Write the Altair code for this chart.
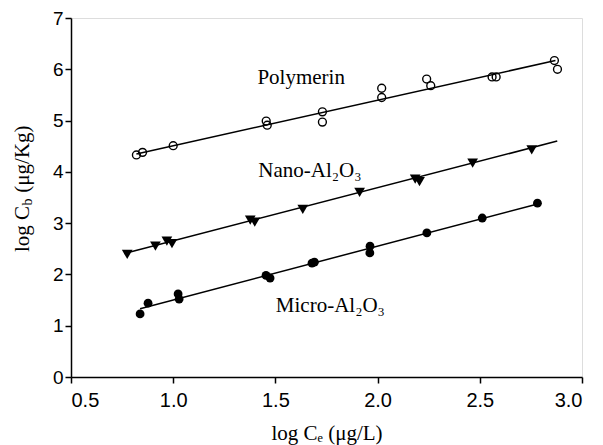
import altair as alt
import pandas as pd

# ---- data ----
poly_x = [0.82, 0.85, 1.00, 1.455, 1.46, 1.73, 1.73, 2.02, 2.02, 2.24, 2.26, 2.56, 2.58, 2.865, 2.88]
poly_y = [4.33, 4.38, 4.51, 4.99, 4.91, 5.17, 4.97, 5.63, 5.45, 5.81, 5.68, 5.85, 5.85, 6.17, 6.00]

nano_x = [0.775, 0.913, 0.969, 0.994, 1.377, 1.399, 1.634, 1.912, 2.184, 2.205, 2.465, 2.754]
nano_y = [2.39, 2.55, 2.65, 2.60, 3.06, 3.02, 3.27, 3.60, 3.86, 3.81, 4.17, 4.43]

micro_x = [0.838, 0.877, 1.024, 1.029, 1.454, 1.474, 1.679, 1.691, 1.963, 1.962, 2.241, 2.512, 2.782]
micro_y = [1.23, 1.44, 1.62, 1.52, 1.98, 1.93, 2.22, 2.24, 2.55, 2.42, 2.81, 3.10, 3.39]

# fitted lines: start and end points
fit_series = ["Polymerin", "Polymerin", "Nano", "Nano", "Micro", "Micro"]
fit_x = [0.82, 2.87, 0.761, 2.879, 0.838, 2.769]
fit_y = [4.35, 6.17, 2.41, 4.60, 1.33, 3.36]

label_text = ["Polymerin", "Nano-Al\u2082O\u2083", "Micro-Al\u2082O\u2083"]
label_x = [1.626, 1.669, 1.769]
label_y = [5.83, 4.02, 1.39]

x_ticks = [0.5, 1.0, 1.5, 2.0, 2.5, 3.0]
y_ticks = [0, 1, 2, 3, 4, 5, 6, 7]

x_title = "log C\u2091 (\u03bcg/L)"
y_title_parts = ["log C", "b", "(\u03bcg/Kg)"]

SERIF = "Liberation Serif"
SANS = "Liberation Sans"

W, H = 511, 359

xs = alt.Scale(domain=[0.5, 3.0], nice=False, zero=False)
ys = alt.Scale(domain=[0, 7], nice=False)

xax = alt.Axis(values=x_ticks, format=".1f", title=x_title, grid=False,
               labelFont=SANS, labelFontSize=20, labelColor="black",
               labelPadding=7, tickSize=6, tickColor="black", tickWidth=1.5,
               domainColor="black", domainWidth=1.5,
               titleFont=SERIF, titleFontSize=21, titleFontWeight="normal",
               titleColor="black", titlePadding=12)
yax = alt.Axis(values=y_ticks, format="d", title=None, grid=False,
               labelFont=SANS, labelFontSize=19, labelColor="black",
               labelPadding=2, tickSize=6, tickColor="black", tickWidth=1.5,
               domainColor="black", domainWidth=1.5)

poly_df = pd.DataFrame({"x": poly_x, "y": poly_y})
nano_df = pd.DataFrame({"x": nano_x, "y": nano_y})
micro_df = pd.DataFrame({"x": micro_x, "y": micro_y})
fit_df = pd.DataFrame({"s": fit_series, "x": fit_x, "y": fit_y})
lab_df = pd.DataFrame({"t": label_text, "x": label_x, "y": label_y})

lines = alt.Chart(fit_df).mark_line(color="black", strokeWidth=1.5).encode(
    x=alt.X("x:Q", scale=xs, axis=xax),
    y=alt.Y("y:Q", scale=ys, axis=yax),
    detail="s:N",
)

poly = alt.Chart(poly_df).mark_point(shape="circle", filled=False, color="black",
                                     strokeWidth=1.4, size=62, opacity=1).encode(
    x=alt.X("x:Q", scale=xs), y=alt.Y("y:Q", scale=ys))

nano = alt.Chart(nano_df).mark_point(shape="triangle-down", filled=True, color="black",
                                     size=115, opacity=1).encode(
    x=alt.X("x:Q", scale=xs), y=alt.Y("y:Q", scale=ys))

micro = alt.Chart(micro_df).mark_circle(color="black", size=78, opacity=1).encode(
    x=alt.X("x:Q", scale=xs), y=alt.Y("y:Q", scale=ys))

labels = alt.Chart(lab_df).mark_text(font=SERIF, fontSize=21, color="black",
                                     align="center", baseline="middle").encode(
    x=alt.X("x:Q", scale=xs), y=alt.Y("y:Q", scale=ys), text="t:N")

# y-axis title built from pieces so that "b" can be a subscript
one = pd.DataFrame({"k": [0]})
yt_x = -48
yt_y0 = 234
fs = 21
w1 = 2.195 * fs
w2 = 0.5 * 14
wsp = 0.25 * fs
yt1 = alt.Chart(one).mark_text(font=SERIF, fontSize=fs, color="black", angle=270,
                               align="left", baseline="middle").encode(
    x=alt.value(yt_x), y=alt.value(yt_y0), text=alt.value(y_title_parts[0]))
yt2 = alt.Chart(one).mark_text(font=SERIF, fontSize=14, color="black", angle=270,
                               align="left", baseline="middle").encode(
    x=alt.value(yt_x + 5), y=alt.value(yt_y0 - w1 - 0.5), text=alt.value(y_title_parts[1]))
yt3 = alt.Chart(one).mark_text(font=SERIF, fontSize=fs, color="black", angle=270,
                               align="left", baseline="middle").encode(
    x=alt.value(yt_x), y=alt.value(yt_y0 - w1 - w2 - wsp - 1), text=alt.value(y_title_parts[2]))

chart = alt.layer(lines, poly, nano, micro, labels, yt1, yt2, yt3).properties(
    width=W, height=H,
    autosize=alt.AutoSizeParams(type="none"),
    padding={"left": 63, "top": 10, "right": 12, "bottom": 72},
).configure_view(stroke="black", strokeWidth=1.5).configure(background="white")

chart.save("out.html", embed_options={"renderer": "svg", "actions": False})
